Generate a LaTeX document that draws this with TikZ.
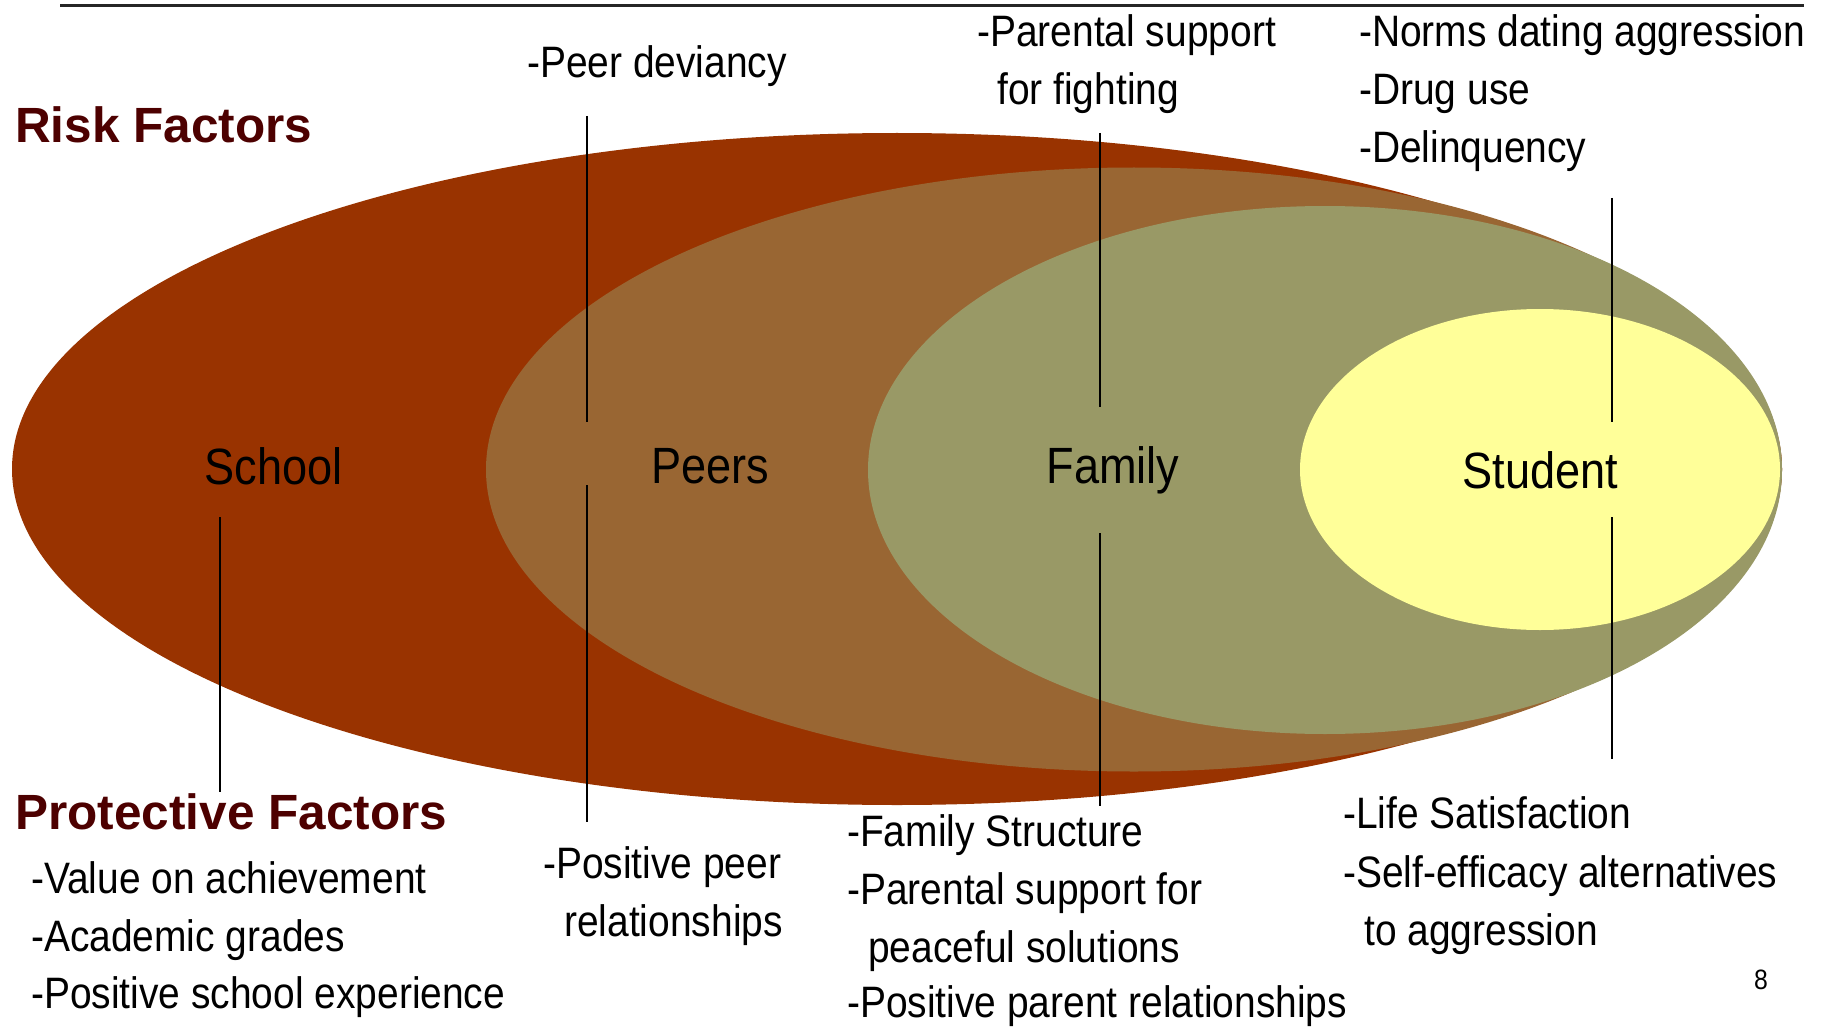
\documentclass[tikz,border=0pt]{standalone}
\usepackage{fontspec}
\setmainfont{Liberation Sans}[FakeStretch=0.885]
\newfontfamily\titlefont{Liberation Sans}
\definecolor{schoolc}{HTML}{993300}
\definecolor{peersc}{HTML}{996633}
\definecolor{familyc}{HTML}{999966}
\definecolor{studentc}{HTML}{FFFF99}
\definecolor{titlec}{HTML}{4D0000}
\tikzset{
  body/.style={anchor=base west, inner sep=0pt, font=\fontsize{44}{58}\selectfont},
  title/.style={anchor=base west, inner sep=0pt, text=titlec, font=\titlefont\bfseries\fontsize{49.5}{58}\selectfont},
  centre/.style={anchor=base, inner sep=0pt, font=\fontsize{51}{60}\selectfont},
  tick/.style={line width=2pt, black}
}
\begin{document}
\begin{tikzpicture}[x=1pt, y=-1pt]
\useasboundingbox (0,0) rectangle (1826,1027);
% top rule
\coordinate (ruleL) at (60,5.5);
\coordinate (ruleR) at (1804,5.5);
\draw[line width=3pt, black!85] (ruleL) -- (ruleR);
% ellipses
\fill[schoolc]  (897,469)  ellipse [x radius=885pt, y radius=336pt];
\fill[peersc]   (1134,469.5) ellipse [x radius=648pt, y radius=302pt];
\fill[familyc]  (1325,470) ellipse [x radius=457pt, y radius=264pt];
\fill[studentc] (1540,469.5) ellipse [x radius=240pt, y radius=160.5pt];
% centre labels
\node[centre] (school)  at (273.5,484) {School};
\node[centre] (peers)   at (710.5,483) {Peers};
\node[centre] (family)  at (1113,483) {Family};
\node[centre] (student) at (1540.5,488) {Student};
% titles
\node[title] (risk) at (15,143) {Risk Factors};
\node[title] (prot) at (15,829) {Protective Factors};
% risk texts
\node[body] (r1) at (527,78) {-Peer deviancy};
\node[body] (r2a) at (977,47) {-Parental support};
\node[body] (r2b) at (997,105) {for fighting};
\node[body] (r3a) at (1359,47) {-Norms dating aggression};
\node[body] (r3b) at (1359,105) {-Drug use};
\node[body] (r3c) at (1359,163) {-Delinquency};
% protective texts
\node[body] (p1a) at (31,893) {-Value on achievement};
\node[body] (p1b) at (31,951) {-Academic grades};
\node[body] (p1c) at (31,1008) {-Positive school experience};
\node[body] (p2a) at (543,878) {-Positive peer};
\node[body] (p2b) at (564,936) {relationships};
\node[body] (p3a) at (847,846) {-Family Structure};
\node[body] (p3b) at (847,904) {-Parental support for};
\node[body] (p3c) at (868,962) {peaceful solutions};
\node[body] (p3d) at (847,1017) {-Positive parent relationships};
\node[body] (p4a) at (1343,828) {-Life Satisfaction};
\node[body] (p4b) at (1343,887) {-Self-efficacy alternatives};
\node[body] (p4c) at (1364,945) {to aggression};
\node[anchor=base, inner sep=0pt, font=\fontsize{28}{30}\selectfont] (pg) at (1761,989) {8};
% connector end points
\coordinate (sL1) at (220,517);  \coordinate (sL2) at (220,792);
\coordinate (pU1) at (587,116);  \coordinate (pU2) at (587,422);
\coordinate (pL1) at (587,485);  \coordinate (pL2) at (587,822);
\coordinate (fU1) at (1100,133); \coordinate (fU2) at (1100,407);
\coordinate (fL1) at (1100,533); \coordinate (fL2) at (1100,806);
\coordinate (tU1) at (1612,198); \coordinate (tU2) at (1612,422);
\coordinate (tL1) at (1612,517); \coordinate (tL2) at (1612,759);
\draw[tick] (sL1) -- (sL2);
\draw[tick] (pU1) -- (pU2);
\draw[tick] (pL1) -- (pL2);
\draw[tick] (fU1) -- (fU2);
\draw[tick] (fL1) -- (fL2);
\draw[tick] (tU1) -- (tU2);
\draw[tick] (tL1) -- (tL2);
\end{tikzpicture}
\end{document}
